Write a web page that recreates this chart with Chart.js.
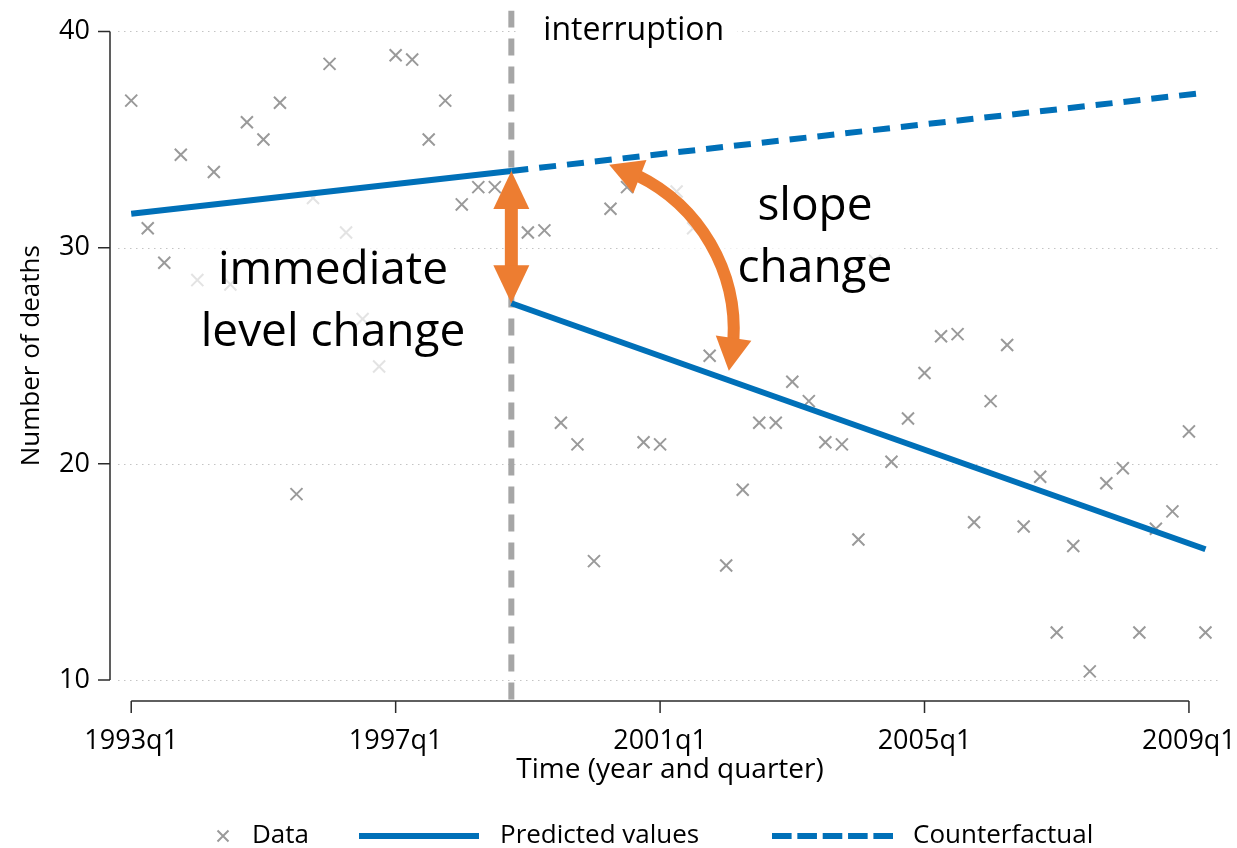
<!DOCTYPE html>
<html>
<head>
<meta charset="utf-8">
<title>Deaths before and after the interruption</title>
<script src="https://cdn.jsdelivr.net/npm/chart.js@4.4.1/dist/chart.umd.min.js"></script>
<style>
  html, body { margin: 0; padding: 0; background: #fff; }
  #wrap { width: 1237px; height: 848px; }
</style>
</head>
<body>
<div id="wrap"><canvas id="chart" width="1237" height="848"></canvas></div>
<script>
// Quarterly number of deaths; position 0 is 1993q1, position 65 is 2009q2.
// The 1998q4 observation sits under the interruption marker and is left empty.
const deaths = [
  36.8, 30.9, 29.3, 34.3, 28.5, 33.5, 28.3, 35.8, 35.0, 36.7,
  18.6, 32.3, 38.5, 30.7, 26.7, 24.5, 38.9, 38.7, 35.0, 36.8,
  32.0, 32.8, 32.8, null, 30.7, 30.8, 21.9, 20.9, 15.5, 31.8,
  32.8, 21.0, 20.9, 32.6, 30.9, 25.0, 15.3, 18.8, 21.9, 21.9,
  23.8, 22.9, 21.0, 20.9, 16.5, 29.4, 20.1, 22.1, 24.2, 25.9,
  26.0, 17.3, 22.9, 25.5, 17.1, 19.4, 12.2, 16.2, 10.4, 19.1,
  19.8, 12.2, 17.0, 17.8, 21.5, 12.2
];

// Start of the intervention (quarter index of 1998q4)
const interruptionQuarter = 23;

// Fitted segments: [quarter, deaths]
const predictedPre  = [[0, 31.57], [23, 33.55]];
const predictedPost = [[23, 27.43], [65, 16.05]];
const counterfactual = [[23, 33.55], [65, 37.17]];

// Axis ticks
const xTickQuarters = [0, 16, 32, 48, 64];
const xTickLabels = ['1993q1', '1997q1', '2001q1', '2005q1', '2009q1'];
const yTicks = [10, 20, 30, 40];

// Axis extents
const xMin = -0.8, xMax = 66;
const yMin = 9.03, yMax = 40.97;

const BLUE = '#0070B8';
const ORANGE = '#ED7D31';
const MARK_GREY = '#9a9a9a';
const REF_GREY = '#a6a6a6';
const FONT = "'Open Sans', sans-serif";

Chart.defaults.font.family = FONT;
Chart.defaults.color = '#000';

const toXY = pairs => pairs.map(([q, v]) => ({ x: q, y: v }));

// Light veil laid over the scatter behind the two annotation captions,
// plus an opaque backing for the "interruption" caption.
const veilPlugin = {
  id: 'veil',
  afterDatasetDraw(chart, args) {
    if (args.index !== 0) return;
    const { ctx } = chart;
    const x = chart.scales.x;
    ctx.save();
    ctx.fillStyle = 'rgba(255,255,255,0.72)';
    ctx.fillRect(185, 192, 267, 186);
    ctx.fillRect(662, 172, 238, 128);
    ctx.fillStyle = '#fff';
    const ix = x.getPixelForValue(interruptionQuarter);
    ctx.fillRect(ix + 6, 12, 220, 36);
    ctx.restore();
  }
};

// Dotted grid and Stata-style detached axes
const framePlugin = {
  id: 'frame',
  beforeDatasetsDraw(chart) {
    const { ctx, chartArea: a } = chart;
    const { x, y } = chart.scales;
    ctx.save();
    ctx.strokeStyle = '#c4c4c4';
    ctx.lineWidth = 1;
    ctx.setLineDash([1.5, 4.5]);
    yTicks.forEach(v => {
      const py = Math.round(y.getPixelForValue(v)) + 0.5;
      ctx.beginPath();
      ctx.moveTo(a.left, py);
      ctx.lineTo(a.right, py);
      ctx.stroke();
    });
    ctx.setLineDash([]);
    ctx.strokeStyle = '#2b2b2b';
    ctx.lineWidth = 1.5;
    ctx.beginPath();
    const ax = a.left - 8;
    ctx.moveTo(ax, y.getPixelForValue(yTicks[yTicks.length - 1]));
    ctx.lineTo(ax, y.getPixelForValue(yTicks[0]));
    yTicks.forEach(v => {
      const py = y.getPixelForValue(v);
      ctx.moveTo(ax - 12, py);
      ctx.lineTo(ax, py);
    });
    const ay = a.bottom;
    ctx.moveTo(x.getPixelForValue(xTickQuarters[0]), ay);
    ctx.lineTo(x.getPixelForValue(xTickQuarters[xTickQuarters.length - 1]), ay);
    xTickQuarters.forEach(q => {
      const px = x.getPixelForValue(q);
      ctx.moveTo(px, ay);
      ctx.lineTo(px, ay + 12);
    });
    ctx.stroke();
    ctx.restore();
  }
};

function arrowHead(ctx, tip, from, len, half) {
  const dx = tip.x - from.x, dy = tip.y - from.y;
  const d = Math.hypot(dx, dy);
  const ux = dx / d, uy = dy / d;
  const bx = tip.x - ux * len, by = tip.y - uy * len;
  ctx.beginPath();
  ctx.moveTo(tip.x, tip.y);
  ctx.lineTo(bx - uy * half, by + ux * half);
  ctx.lineTo(bx + uy * half, by - ux * half);
  ctx.closePath();
  ctx.fill();
}

// Captions and orange double arrows
const notesPlugin = {
  id: 'notes',
  afterDatasetsDraw(chart) {
    const { ctx } = chart;
    const { x, y } = chart.scales;
    ctx.save();

    // level change arrow at the interruption
    const ix = x.getPixelForValue(interruptionQuarter);
    const yTop = y.getPixelForValue(counterfactual[0][1]);
    const yBot = y.getPixelForValue(predictedPost[0][1]);
    const L = 38, H = 18;
    ctx.strokeStyle = ORANGE;
    ctx.fillStyle = ORANGE;
    ctx.lineWidth = 13;
    ctx.lineCap = 'butt';
    ctx.beginPath();
    ctx.moveTo(ix, yTop + L - 2);
    ctx.lineTo(ix, yBot - L + 2);
    ctx.stroke();
    arrowHead(ctx, { x: ix, y: yTop }, { x: ix, y: yTop + 10 }, L, H);
    arrowHead(ctx, { x: ix, y: yBot }, { x: ix, y: yBot - 10 }, L, H);

    // slope change arc between the counterfactual and the post-period fit
    const cx = x.getPixelForValue(26.05), cy = y.getPixelForValue(26.19);
    const r = 172;
    const a0 = -74 * Math.PI / 180, a1 = 13.7 * Math.PI / 180;
    const HL = 33, HH = 18;
    const pt = a => ({ x: cx + r * Math.cos(a), y: cy + r * Math.sin(a) });
    ctx.lineWidth = 12;
    ctx.beginPath();
    ctx.arc(cx, cy, r, a0 + (HL - 3) / r, a1 - (HL - 3) / r);
    ctx.stroke();
    arrowHead(ctx, pt(a0), pt(a0 + HL / r), HL, HH);
    arrowHead(ctx, pt(a1), pt(a1 - HL / r), HL, HH);

    // captions
    ctx.fillStyle = '#000';
    ctx.textBaseline = 'alphabetic';
    ctx.textAlign = 'left';
    ctx.font = `32px ${FONT}`;
    ctx.fillText('interruption', ix + 32, 40);
    ctx.textAlign = 'center';
    ctx.font = `46px ${FONT}`;
    ctx.fillText('immediate', 333, 284);
    ctx.fillText('level change', 333, 346);
    ctx.fillText('slope', 815, 220);
    ctx.fillText('change', 815, 282);
    ctx.restore();
  }
};

// Legend row along the bottom edge
const keyPlugin = {
  id: 'key',
  afterDraw(chart) {
    const { ctx } = chart;
    const ky = 836;
    ctx.save();
    ctx.strokeStyle = MARK_GREY;
    ctx.lineWidth = 2;
    const m = 5.5;
    ctx.beginPath();
    ctx.moveTo(223 - m, ky - m); ctx.lineTo(223 + m, ky + m);
    ctx.moveTo(223 - m, ky + m); ctx.lineTo(223 + m, ky - m);
    ctx.stroke();

    ctx.strokeStyle = BLUE;
    ctx.lineWidth = 6;
    ctx.beginPath();
    ctx.moveTo(359, ky); ctx.lineTo(479, ky);
    ctx.stroke();
    ctx.setLineDash([19.6, 5.75]);
    ctx.beginPath();
    ctx.moveTo(772, ky); ctx.lineTo(893, ky);
    ctx.stroke();
    ctx.setLineDash([]);

    ctx.fillStyle = '#000';
    ctx.font = `26px ${FONT}`;
    ctx.textBaseline = 'middle';
    ctx.textAlign = 'left';
    ctx.fillText('Data', 252, ky);
    ctx.fillText('Predicted values', 500, ky);
    ctx.fillText('Counterfactual', 913, ky);
    ctx.restore();
  }
};

new Chart(document.getElementById('chart'), {
  type: 'scatter',
  data: {
    datasets: [
      {
        label: 'Data',
        data: deaths.map((v, i) => ({ x: i, y: v })),
        pointStyle: 'crossRot',
        pointRadius: 8.5,
        pointBorderWidth: 2,
        pointBorderColor: MARK_GREY,
        pointBackgroundColor: MARK_GREY,
        showLine: false,
        order: 5
      },
      {
        label: 'interruption',
        data: [{ x: interruptionQuarter, y: yMax }, { x: interruptionQuarter, y: yMin }],
        showLine: true,
        borderColor: REF_GREY,
        borderWidth: 6,
        borderDash: [17, 11],
        borderCapStyle: 'butt',
        pointRadius: 0,
        order: 4
      },
      {
        label: 'Counterfactual',
        data: toXY(counterfactual),
        showLine: true,
        borderColor: BLUE,
        borderWidth: 6,
        borderDash: [17, 11],
        borderCapStyle: 'butt',
        pointRadius: 0,
        order: 3
      },
      {
        label: 'Predicted values',
        data: toXY(predictedPre),
        showLine: true,
        borderColor: BLUE,
        borderWidth: 6,
        borderCapStyle: 'butt',
        pointRadius: 0,
        order: 2
      },
      {
        label: 'Predicted values (post)',
        data: toXY(predictedPost),
        showLine: true,
        borderColor: BLUE,
        borderWidth: 6,
        borderCapStyle: 'butt',
        pointRadius: 0,
        order: 1
      }
    ]
  },
  options: {
    responsive: false,
    devicePixelRatio: 1,
    animation: false,
    events: [],
    layout: { padding: { left: 0, right: 15, top: 10, bottom: 0 } },
    plugins: { legend: { display: false }, tooltip: { enabled: false } },
    scales: {
      x: {
        type: 'linear',
        min: xMin,
        max: xMax,
        grid: { display: false, drawTicks: false },
        border: { display: false },
        afterBuildTicks: s => { s.ticks = xTickQuarters.map(v => ({ value: v })); },
        afterFit: s => { s.height = 147; s.paddingLeft = 0; s.paddingRight = 0; },
        ticks: {
          autoSkip: false,
          maxRotation: 0,
          padding: 24,
          color: '#000',
          font: { size: 27 },
          callback: v => xTickLabels[xTickQuarters.indexOf(v)]
        },
        title: {
          display: true,
          text: 'Time (year and quarter)',
          color: '#000',
          font: { size: 28 },
          padding: { top: 0, bottom: 61 }
        }
      },
      y: {
        type: 'linear',
        min: yMin,
        max: yMax,
        grid: { display: false, drawTicks: false },
        border: { display: false },
        afterBuildTicks: s => { s.ticks = yTicks.map(v => ({ value: v })); },
        afterFit: s => { s.width = 118; s.paddingTop = 0; s.paddingBottom = 0; },
        ticks: {
          padding: 28,
          color: '#000',
          font: { size: 27 },
          callback: v => String(v)
        },
        title: {
          display: true,
          text: 'Number of deaths',
          color: '#000',
          font: { size: 26 },
          padding: { top: 16 }
        }
      }
    }
  },
  plugins: [framePlugin, veilPlugin, notesPlugin, keyPlugin]
});
</script>
</body>
</html>
